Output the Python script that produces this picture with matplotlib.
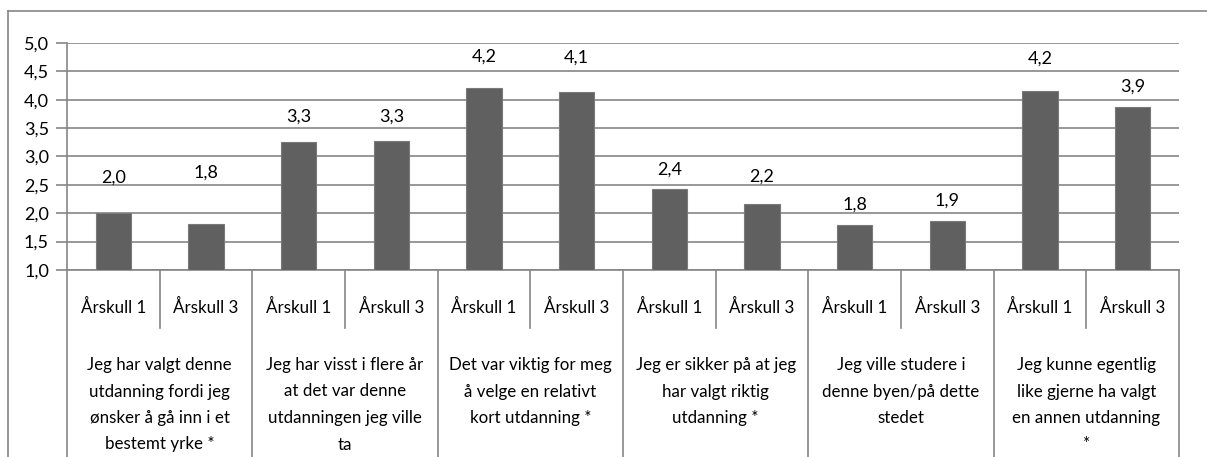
import matplotlib
matplotlib.use('Agg')
import matplotlib.pyplot as plt
from matplotlib.lines import Line2D
from matplotlib.transforms import blended_transform_factory

# ---- data
groups = [
    ['Jeg har valgt denne', 'utdanning fordi jeg', 'ønsker å gå inn i et', 'bestemt yrke *'],
    ['Jeg har visst i flere år', 'at det var denne', 'utdanningen jeg ville', 'ta'],
    ['Det var viktig for meg', 'å velge en relativt', 'kort utdanning *'],
    ['Jeg er sikker på at jeg', 'har valgt riktig', 'utdanning *'],
    ['Jeg ville studere i', 'denne byen/på dette', 'stedet'],
    ['Jeg kunne egentlig', 'like gjerne ha valgt', 'en annen utdanning', '*'],
]
cohorts = ['Årskull 1', 'Årskull 3']
values = [2.00, 1.81, 3.25, 3.28, 4.21, 4.13, 2.42, 2.16, 1.80, 1.86, 4.16, 3.88]
value_labels = ['2,0', '1,8', '3,3', '3,3', '4,2', '4,1', '2,4', '2,2', '1,8', '1,9', '4,2', '3,9']
y_ticks = [1.0, 1.5, 2.0, 2.5, 3.0, 3.5, 4.0, 4.5, 5.0]

# label heights above the bars (Excel put them unevenly)
label_lift = [0.62, 0.90, 0.45, 0.42, 0.55, 0.61, 0.34, 0.48, 0.35, 0.37, 0.57, 0.35]

plt.rcParams['font.family'] = ['Lato', 'DejaVu Sans']
W, H = 1207, 457
fig = plt.figure(figsize=(W / 100, H / 100), dpi=100)

x0, x1, y_top, y_bot = 67, 1179, 43, 270
ax = fig.add_axes([x0 / W, 1 - y_bot / H, (x1 - x0) / W, (y_bot - y_top) / H])

grid_c = '#868686'
fs_num = 13
fs_cat = 12.2
n = len(values)
xs = [i + 0.5 for i in range(n)]
ax.bar(xs, [v - 1 for v in values], bottom=1, width=0.38,
       color='#606060', edgecolor='#7a7a7a', linewidth=0.8, zorder=3)

for x, v, lab, lift in zip(xs, values, value_labels, label_lift):
    ax.text(x, v + lift, lab, ha='center', va='center', fontsize=fs_num, color='black')

ax.set_xlim(0, n)
ax.set_ylim(1, 5)
ax.set_yticks(y_ticks)
ax.set_yticklabels([('%.1f' % t).replace('.', ',') for t in y_ticks], fontsize=fs_num)
ax.yaxis.grid(True, color=grid_c, linewidth=1.2, zorder=0)
ax.set_xticks([])
for s in ['top', 'right']:
    ax.spines[s].set_visible(False)
ax.spines['left'].set_color(grid_c)
ax.spines['left'].set_linewidth(1.2)
ax.spines['bottom'].set_color(grid_c)
ax.spines['bottom'].set_linewidth(1.2)
ax.tick_params(axis='y', length=8, width=1.2, color=grid_c, pad=5)

# ---- two-level category axis under the plot
px = (y_bot - y_top)  # axes height in pixels
def ay(py):
    return (y_bot - py) / px

tr = blended_transform_factory(ax.transData, ax.transAxes)
for i in range(n + 1):
    bottom = ay(H) if i % 2 == 0 else ay(328)
    ax.add_line(Line2D([i, i], [0, bottom], transform=tr, color=grid_c,
                       linewidth=1.2, clip_on=False))
for i, x in enumerate(xs):
    ax.text(x, ay(307), cohorts[i % 2], transform=tr, ha='center', va='center',
            fontsize=fs_cat, clip_on=False)
for g, lines in enumerate(groups):
    for k, line in enumerate(lines):
        ax.text(2 * g + 1, ay(365 + 26.5 * k), line, transform=tr, ha='center',
                va='center', fontsize=fs_cat, clip_on=False)

# ---- outer chart frame (cut at right and bottom)
fig.add_artist(Line2D([8 / W, 8 / W], [0, 1 - 11 / H], color=grid_c, linewidth=1.2))
fig.add_artist(Line2D([8 / W, 1], [1 - 11 / H, 1 - 11 / H], color=grid_c, linewidth=1.2))

fig.savefig('out.png', dpi=100)
